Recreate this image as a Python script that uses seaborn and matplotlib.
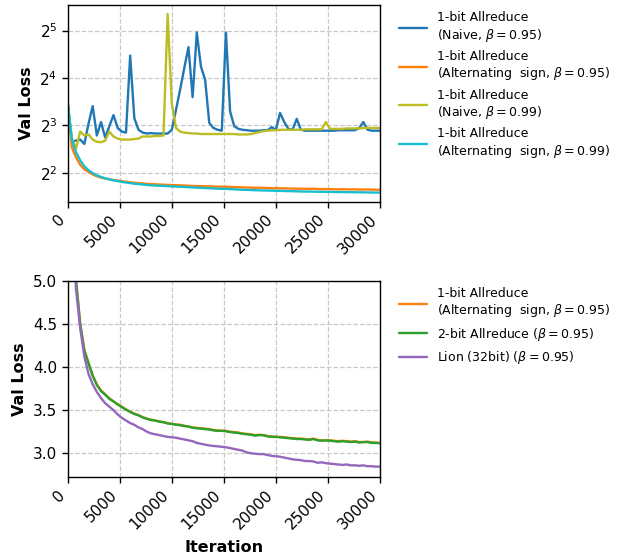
import numpy as np
import pandas as pd
import matplotlib
matplotlib.use("Agg")
import matplotlib.pyplot as plt
import seaborn as sns
from matplotlib.ticker import NullLocator, MultipleLocator

# validation every 400 iterations
iterations = np.arange(0, 30001, 400)

naive_095 = [
    11.1, 6.3, 6.4, 6.5, 6.1, 8.2, 10.6, 6.9, 8.4, 6.7,
    7.9, 9.3, 7.7, 7.3, 7.2, 22.2, 8.9, 7.5, 7.2, 7.1,
    7.15, 7.1, 7.1, 7.1, 7.1, 7.5, 10.0, 13.5, 18.5, 25.1,
    12.1, 31.1, 18.9, 15.6, 8.3, 7.7, 7.5, 7.4, 31.1, 9.8,
    7.9, 7.6, 7.5, 7.45, 7.4, 7.4, 7.4, 7.45, 7.45, 7.8,
    7.5, 9.6, 8.4, 7.6, 7.5, 8.8, 7.5, 7.4, 7.4, 7.4,
    7.4, 7.4, 7.4, 7.4, 7.4, 7.45, 7.45, 7.45, 7.45, 7.45,
    7.7, 8.4, 7.5, 7.4, 7.4, 7.4,
]

naive_099 = [
    11.1, 6.6, 5.7, 7.3, 6.9, 7.0, 6.5, 6.3, 6.25, 6.4,
    7.3, 6.8, 6.6, 6.5, 6.5, 6.5, 6.55, 6.6, 6.8, 6.8,
    6.8, 6.85, 6.85, 6.9, 40.8, 11.0, 7.7, 7.3, 7.2, 7.15,
    7.1, 7.1, 7.05, 7.05, 7.05, 7.05, 7.05, 7.05, 7.05, 7.05,
    7.05, 7.0, 7.0, 7.0, 7.05, 7.15, 7.25, 7.35, 7.4, 7.45,
    7.45, 7.5, 7.5, 7.5, 7.5, 7.5, 7.5, 7.55, 7.55, 7.55,
    7.55, 7.55, 8.4, 7.6, 7.6, 7.6, 7.6, 7.65, 7.65, 7.65,
    7.65, 7.7, 7.7, 7.7, 7.7, 7.7,
]

alt_095 = [
    11.1, 5.8, 5.0, 4.5, 4.2, 4.05, 3.9, 3.8, 3.73, 3.68,
    3.64, 3.6, 3.57, 3.54, 3.51, 3.48, 3.46, 3.44, 3.42, 3.40,
    3.39, 3.38, 3.37, 3.36, 3.35, 3.34, 3.335, 3.33, 3.32, 3.31,
    3.30, 3.295, 3.29, 3.285, 3.28, 3.27, 3.265, 3.262, 3.26, 3.25,
    3.245, 3.24, 3.23, 3.225, 3.22, 3.21, 3.215, 3.21, 3.20, 3.195,
    3.19, 3.19, 3.185, 3.18, 3.175, 3.17, 3.17, 3.165, 3.16, 3.17,
    3.155, 3.15, 3.15, 3.15, 3.145, 3.14, 3.145, 3.14, 3.135, 3.14,
    3.13, 3.13, 3.135, 3.125, 3.125, 3.12,
]

alt_099 = [
    11.1, 6.5, 5.4, 4.8, 4.4, 4.15, 3.98, 3.85, 3.76, 3.69,
    3.63, 3.58, 3.54, 3.5, 3.47, 3.44, 3.41, 3.39, 3.37, 3.35,
    3.33, 3.32, 3.31, 3.30, 3.29, 3.28, 3.27, 3.26, 3.25, 3.24,
    3.23, 3.22, 3.21, 3.2, 3.19, 3.18, 3.17, 3.165, 3.16, 3.15,
    3.14, 3.13, 3.12, 3.115, 3.11, 3.1, 3.095, 3.09, 3.085, 3.08,
    3.075, 3.07, 3.065, 3.06, 3.055, 3.05, 3.045, 3.04, 3.04, 3.035,
    3.03, 3.03, 3.025, 3.025, 3.02, 3.02, 3.015, 3.015, 3.01, 3.01,
    3.005, 3.005, 3.0, 3.0, 2.995, 2.995,
]

twobit_095 = [
    11.1, 5.8, 5.0, 4.5, 4.19, 4.04, 3.9, 3.79, 3.72, 3.68,
    3.63, 3.6, 3.565, 3.535, 3.505, 3.48, 3.455, 3.44, 3.415, 3.40,
    3.385, 3.38, 3.365, 3.36, 3.345, 3.34, 3.33, 3.325, 3.315, 3.31,
    3.295, 3.29, 3.285, 3.28, 3.275, 3.265, 3.26, 3.26, 3.255, 3.245,
    3.24, 3.235, 3.225, 3.22, 3.215, 3.205, 3.21, 3.21, 3.195, 3.19,
    3.19, 3.185, 3.18, 3.175, 3.17, 3.165, 3.165, 3.16, 3.155, 3.165,
    3.15, 3.145, 3.15, 3.145, 3.14, 3.135, 3.14, 3.135, 3.13, 3.135,
    3.125, 3.13, 3.13, 3.12, 3.12, 3.115,
]

lion_095 = [
    11.1, 5.8, 4.9, 4.45, 4.12, 3.92, 3.8, 3.71, 3.64, 3.58,
    3.54, 3.5, 3.45, 3.41, 3.38, 3.35, 3.33, 3.30, 3.28, 3.25,
    3.23, 3.22, 3.21, 3.2, 3.19, 3.185, 3.18, 3.17, 3.16, 3.15,
    3.14, 3.12, 3.11, 3.10, 3.09, 3.085, 3.08, 3.075, 3.07, 3.06,
    3.05, 3.04, 3.03, 3.01, 3.0, 2.995, 2.99, 2.99, 2.98, 2.97,
    2.965, 2.96, 2.95, 2.94, 2.93, 2.925, 2.92, 2.91, 2.91, 2.905,
    2.89, 2.895, 2.885, 2.88, 2.875, 2.87, 2.865, 2.87, 2.86, 2.86,
    2.855, 2.86, 2.85, 2.85, 2.845, 2.845,
]

for s in (naive_095, naive_099, alt_095, alt_099, twobit_095, lion_095):
    assert len(s) == len(iterations)

top_series = [
    ("1-bit Allreduce\n(Naive, $\\beta=0.95$)", naive_095, "#1f77b4"),
    ("1-bit Allreduce\n(Alternating  sign, $\\beta=0.95$)", alt_095, "#ff7f0e"),
    ("1-bit Allreduce\n(Naive, $\\beta=0.99$)", naive_099, "#bcbd22"),
    ("1-bit Allreduce\n(Alternating  sign, $\\beta=0.99$)", alt_099, "#17becf"),
]
bottom_series = [
    ("1-bit Allreduce\n(Alternating  sign, $\\beta=0.95$)", alt_095, "#ff7f0e"),
    ("2-bit Allreduce ($\\beta=0.95$)", twobit_095, "#2ca02c"),
    ("Lion (32bit) ($\\beta=0.95$)", lion_095, "#9467bd"),
]

sns.set_style("ticks")
plt.rcParams["font.family"] = ["DejaVu Sans"]
plt.rcParams["text.color"] = "black"
plt.rcParams["axes.labelcolor"] = "black"
plt.rcParams["xtick.color"] = "black"
plt.rcParams["ytick.color"] = "black"

W, H = 621, 556
fig = plt.figure(figsize=(W / 100, H / 100), dpi=100)
ax1 = fig.add_axes([67.7 / W, (H - 201.5) / H, 312.3 / W, 196.5 / H])
ax2 = fig.add_axes([67.7 / W, (H - 477) / H, 312.3 / W, 196.3 / H])

for label, vals, color in top_series:
    sns.lineplot(x=iterations, y=vals, ax=ax1, color=color, label=label, lw=1.7)
for label, vals, color in bottom_series:
    sns.lineplot(x=iterations, y=vals, ax=ax2, color=color, label=label, lw=1.7)

ax1.set_yscale("log", base=2)
ax1.yaxis.set_minor_locator(NullLocator())
ax2.set_ylim(2.725, 5.0)
ax2.yaxis.set_major_locator(MultipleLocator(0.5))

for ax in (ax1, ax2):
    ax.set_xlim(0, 30000)
    ax.xaxis.set_major_locator(MultipleLocator(5000))
    ax.grid(True, which="major", ls="--", color="#c8c8c8", lw=0.9)
    ax.tick_params(labelsize=11, colors="black", width=1, length=4)
    plt.setp(ax.get_xticklabels(), rotation=45, ha="right")
    for sp in ax.spines.values():
        sp.set_color("black")
        sp.set_linewidth(1)
    ax.set_ylabel("Val Loss", fontsize=11.5, fontweight="bold", color="black")
    ax.set_xlabel("")
    leg = ax.legend(loc="upper left", bbox_to_anchor=(1.025, 1.025), frameon=False,
                    fontsize=9, handlelength=2.2)
    for t in leg.get_texts():
        t.set_color("black")

ax2.set_xlabel("Iteration", fontsize=11.5, fontweight="bold", color="black", labelpad=6)

fig.savefig("out.png", dpi=100)
